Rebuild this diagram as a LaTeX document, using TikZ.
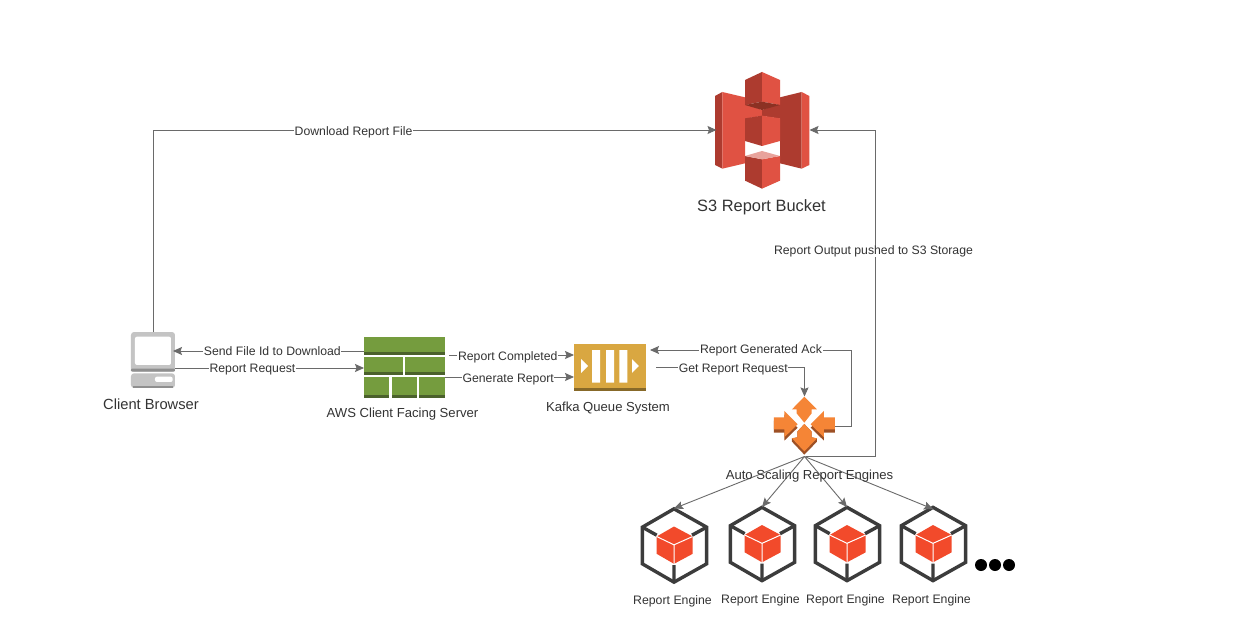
\documentclass[tikz,border=0pt]{standalone}
\usepackage{fontspec}
\setmainfont{Liberation Sans}
\usetikzlibrary{arrows.meta}
\definecolor{linegray}{HTML}{6A6A6A}
\definecolor{txt}{HTML}{333333}
\definecolor{sred}{HTML}{E05243}
\definecolor{sdark}{HTML}{AD3B2F}
\definecolor{sdeep}{HTML}{8C3123}
\definecolor{spale}{HTML}{E8A39C}
\definecolor{pcgray}{HTML}{C4C4C4}
\definecolor{pcdark}{HTML}{8F8F8F}
\definecolor{brick}{HTML}{759C3E}
\definecolor{brickd}{HTML}{4B612C}
\definecolor{gold}{HTML}{D9A741}
\definecolor{goldd}{HTML}{876929}
\definecolor{orange}{HTML}{F58536}
\definecolor{oranged}{HTML}{9D5025}
\definecolor{hexgray}{HTML}{3C3C3C}
\definecolor{cube}{HTML}{F24A2B}
\tikzset{
  x=1pt,y=-1pt,
  anchorbox/.style={inner sep=0pt,outer sep=0pt,rectangle},
  conn/.style={draw=linegray,line width=0.9pt,-{Stealth[length=9pt,width=8pt,inset=1.5pt]}},
  lab/.style={fill=white,inner sep=0.6pt,text=txt,font=\fontsize{12.25}{14}\selectfont},
  cap12/.style={text=txt,font=\fontsize{12.3}{14}\selectfont,inner sep=0pt},
  cap13/.style={text=txt,font=\fontsize{13.1}{15}\selectfont,inner sep=0pt},
  cap14/.style={text=txt,font=\fontsize{14.7}{16}\selectfont,inner sep=0pt},
  cap16/.style={text=txt,font=\fontsize{16.4}{18}\selectfont,inner sep=0pt},
  engine/.pic={
    \begin{scope}[x=0.3333pt,y=-0.3333pt,shift={(-132,-155)}]
      \fill[cube] (132,98)--(188,128)--(188,180)--(132,210)--(80,180)--(80,128)--cycle;
      \draw[white,line width=1pt] (80,128)--(132,153)--(188,128) (132,153)--(132,210);
      \draw[hexgray,line width=3.4pt,line join=miter] (132,45)--(230,100)--(230,210)--(132,265)--(37,210)--(37,100)--cycle;
      \draw[hexgray,line width=3.4pt] (37,100)--(80,124) (230,100)--(186,124) (132,265)--(132,214);
    \end{scope}
  }
}
\begin{document}
\begin{tikzpicture}
\useasboundingbox[fill=white] (0,0) rectangle (1258,642);

% S3 bucket
\begin{scope}[shift={(690,60)},x=0.3333pt,y=-0.3333pt]
  \fill[sdark] (75,108)--(97,96)--(97,326)--(75,315)--cycle;
  \fill[sred] (97,96)--(165,112)--(165,130)--(216,150)--(216,168)--(165,176)--(165,243)--(165,310)--(97,326)--cycle;
  \fill[sdark] (335,96)--(270,112)--(270,130)--(216,150)--(216,168)--(270,176)--(270,310)--(335,326)--cycle;
  \fill[sred] (335,96)--(358,108)--(358,315)--(335,326)--cycle;
  \fill[sdark] (165,60)--(216,36)--(216,125)--(165,135)--cycle;
  \fill[sred] (216,36)--(270,60)--(270,135)--(216,125)--cycle;
  \fill[sdeep] (165,135)--(216,125)--(270,135)--(216,150)--cycle;
  \fill[sdark] (165,175)--(216,167)--(216,258)--(165,243)--cycle;
  \fill[sred] (216,167)--(270,175)--(270,243)--(216,258)--cycle;
  \fill[sdark] (165,288)--(216,298)--(216,386)--(165,362)--cycle;
  \fill[sred] (216,298)--(270,288)--(270,362)--(216,386)--cycle;
  \fill[spale] (165,288)--(216,273)--(270,288)--(216,298)--cycle;
\end{scope}
\node[anchorbox,minimum width=93pt,minimum height=117pt] (s3) at (763,130) {};

% Client
\begin{scope}[shift={(110,320)},x=0.3333pt,y=-0.3333pt]
  \fill[pcgray,rounded corners=3pt] (63,36) rectangle (195,155);
  \fill[pcdark,rounded corners=1pt] (63,146) rectangle (195,155);
  \fill[white,rounded corners=2pt] (75,50) rectangle (183,135);
  \fill[pcgray,rounded corners=3pt] (63,160) rectangle (195,204);
  \fill[pcdark] (70,197) rectangle (188,204);
  \fill[white,rounded corners=2pt] (135,170) rectangle (188,186);
\end{scope}
\node[anchorbox,minimum width=44pt,minimum height=56pt] (client) at (153,360) {};

% Firewall
\begin{scope}[shift={(110,320)},x=0.3333pt,y=-0.3333pt]
  \foreach \xa/\ya/\xb/\yb in {762/51/1005/105,762/111/879/165,885/111/1005/165,762/171/837/233,846/171/921/233,927/171/1005/233}{
    \fill[brick] (\xa,\ya) rectangle (\xb,\yb);
    \fill[brickd] (\xa,\yb-8) rectangle (\xb,\yb);
  }
\end{scope}
\node[anchorbox,minimum width=81pt,minimum height=62pt] (fw) at (404.5,368) {};

% Kafka
\begin{scope}[shift={(560,330)},x=0.3333pt,y=-0.3333pt]
  \fill[gold] (42,42) rectangle (258,176);
  \fill[goldd] (42,174) rectangle (258,182);
  \fill[white] (96,60) rectangle (120,158) (138,60) rectangle (162,158) (178,60) rectangle (202,158);
  \fill[white] (63,87)--(84,108)--(63,129)--cycle (216,87)--(237,108)--(216,129)--cycle;
\end{scope}
\node[anchorbox,minimum width=72pt,minimum height=47pt] (kafka) at (610,367.5) {};

% Auto scaling
\begin{scope}[shift={(560,330)},x=0.3333pt,y=-0.3333pt]
  \fill[orange] (733,200)--(771,238)--(755,238)--(755,250)--(733,278)--(710,250)--(710,238)--(696,238)--cycle;
  \fill[oranged] (733,282)--(755,305)--(755,322)--(771,325)--(771,335)--(733,374)--(696,335)--(696,325)--(712,322)--(712,305)--cycle;
  \fill[orange] (733,282)--(755,305)--(755,322)--(771,325)--(733,364)--(696,325)--(712,322)--(712,305)--cycle;
  \fill[oranged] (642,272)--(673,272)--(673,253)--(713,293)--(673,332)--(673,308)--(642,308)--cycle;
  \fill[oranged] (825,272)--(792,272)--(792,253)--(752,293)--(792,332)--(792,308)--(825,308)--cycle;
  \fill[orange] (642,262)--(673,262)--(673,243)--(713,283)--(673,322)--(673,298)--(642,298)--cycle;
  \fill[orange] (825,262)--(792,262)--(792,243)--(752,283)--(792,322)--(792,298)--(825,298)--cycle;
\end{scope}
\node[anchorbox,minimum width=61pt,minimum height=60pt] (asg) at (804.5,426.5) {};

% Engines
\pic at (674,545.5) {engine};
\pic at (762,544) {engine};
\pic at (847,544) {engine};
\pic at (933,544) {engine};
\node[anchorbox,minimum width=66pt,minimum height=74pt] (e1) at (674,545.5) {};
\node[anchorbox,minimum width=66pt,minimum height=74pt] (e2) at (762,544) {};
\node[anchorbox,minimum width=66pt,minimum height=74pt] (e3) at (847,544) {};
\node[anchorbox,minimum width=66pt,minimum height=74pt] (e4) at (933,544) {};

% Dots
\fill[black] (981,565) circle (6pt) (995,565) circle (6pt) (1009,565) circle (6pt);

% Connectors
\draw[conn] (client.north) |- node[lab,pos=0.678,yshift=-2pt] {Download Report File} (s3.west);
\draw[conn] ([xshift=1pt]asg.south) -- ++(70,0) |- node[lab,pos=0.316,xshift=-2pt,yshift=-1pt] {Report Output pushed to S3 Storage} (s3.east);
\draw[conn] ([yshift=17pt]fw.west) -- node[lab,pos=0.48] {Send File Id to Download} ([xshift=-2pt,yshift=9pt]client.east);
\draw[conn] ([yshift=-8pt]client.east) -- node[lab,pos=0.41,yshift=-2pt] {Report Request} (fw.west);
\draw[conn] ([xshift=4pt,yshift=13pt]fw.east) -- node[lab,pos=0.47,yshift=-2pt] {Report Completed} ([yshift=12.5pt]kafka.west);
\draw[conn] ([yshift=-9pt]fw.east) -- node[lab,pos=0.49,yshift=-2pt] {Generate Report} ([yshift=-9.5pt]kafka.west);
\draw[conn] (asg.east) -- ++(16,0) |- node[lab,pos=0.724] {Report Generated Ack} ([xshift=4pt,yshift=17.5pt]kafka.east);
\draw[conn] ([xshift=10pt]kafka.east) -| node[lab,pos=0.26,yshift=-2pt] {Get Report Request} (asg.north);
\draw[conn] (asg.south) -- (e1.north);
\draw[conn] (asg.south) -- (e2.north);
\draw[conn] (asg.south) -- (e3.north);
\draw[conn] (asg.south) -- ([yshift=-2pt]e4.north);

% Captions
\node[cap16] (s3cap) at (761.5,207.5) {S3 Report Bucket};
\node[cap14] (clientcap) at (151,404) {Client Browser};
\node[cap13] (fwcap) at (402.5,414.5) {AWS Client Facing Server};
\node[cap13] (kafkacap) at (608,408.5) {Kafka Queue System};
\node[cap13] (asgcap) at (809.5,476) {Auto Scaling Report Engines};
\node[cap12] (e1cap) at (672.5,601) {Report Engine};
\node[cap12] (e2cap) at (760.5,600) {Report Engine};
\node[cap12] (e3cap) at (845.5,600) {Report Engine};
\node[cap12] (e4cap) at (931.5,600) {Report Engine};
\end{tikzpicture}
\end{document}
